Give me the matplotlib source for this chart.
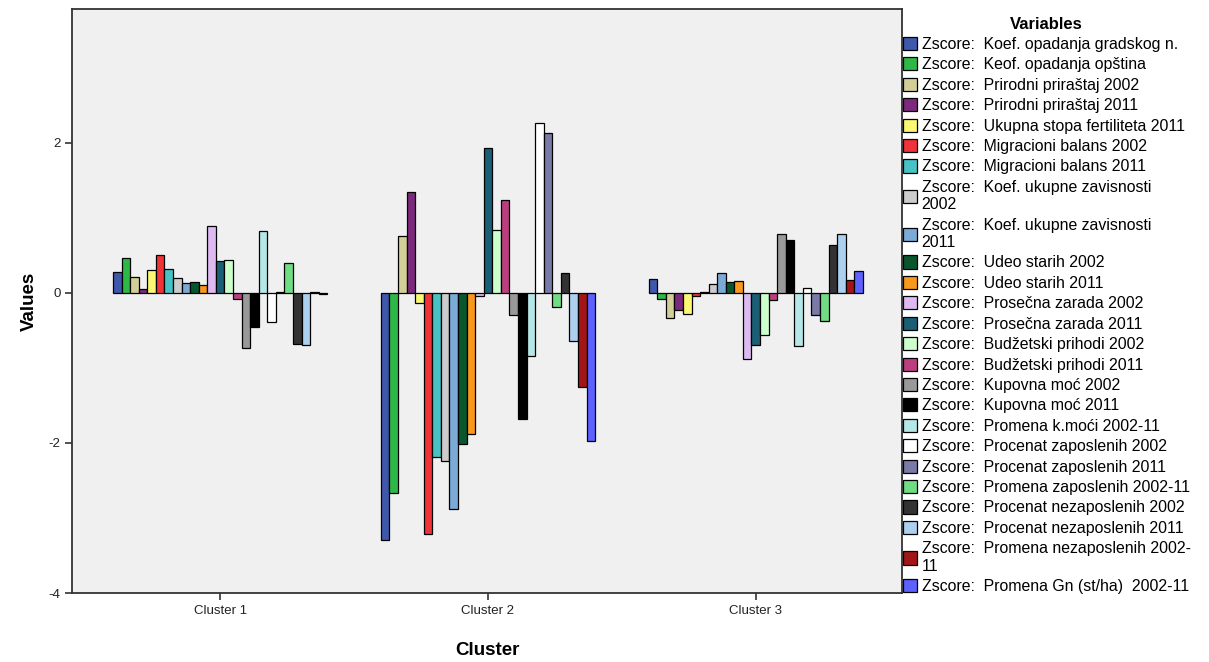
import matplotlib
matplotlib.use("Agg")
import matplotlib.pyplot as plt
import numpy as np

plt.rcParams['font.family'] = ['Liberation Sans', 'DejaVu Sans']
plt.rcParams['axes.unicode_minus'] = False

clusters = ["Cluster 1", "Cluster 2", "Cluster 3"]

variables = [
    "Zscore:  Koef. opadanja gradskog n.",
    "Zscore:  Keof. opadanja opština",
    "Zscore:  Prirodni priraštaj 2002",
    "Zscore:  Prirodni priraštaj 2011",
    "Zscore:  Ukupna stopa fertiliteta 2011",
    "Zscore:  Migracioni balans 2002",
    "Zscore:  Migracioni balans 2011",
    "Zscore:  Koef. ukupne zavisnosti\n2002",
    "Zscore:  Koef. ukupne zavisnosti\n2011",
    "Zscore:  Udeo starih 2002",
    "Zscore:  Udeo starih 2011",
    "Zscore:  Prosečna zarada 2002",
    "Zscore:  Prosečna zarada 2011",
    "Zscore:  Budžetski prihodi 2002",
    "Zscore:  Budžetski prihodi 2011",
    "Zscore:  Kupovna moć 2002",
    "Zscore:  Kupovna moć 2011",
    "Zscore:  Promena k.moći 2002-11",
    "Zscore:  Procenat zaposlenih 2002",
    "Zscore:  Procenat zaposlenih 2011",
    "Zscore:  Promena zaposlenih 2002-11",
    "Zscore:  Procenat nezaposlenih 2002",
    "Zscore:  Procenat nezaposlenih 2011",
    "Zscore:  Promena nezaposlenih 2002-\n11",
    "Zscore:  Promena Gn (st/ha)  2002-11",
]

colors = ["#3E58AC", "#2EB848", "#D3CE97", "#7C287D", "#FBF873", "#EF3338",
          "#48C2C5", "#CCCCCC", "#7AAAD5", "#0A562C", "#F8981D", "#DDBAF1",
          "#1A5F76", "#CCFFCC", "#BB3F7F", "#999999", "#000000", "#B6E7E8",
          "#FFFFFF", "#797AA7", "#70DC84", "#333333", "#ACD0EE", "#A21619",
          "#5D61FF"]

cluster1 = [0.28, 0.46, 0.21, 0.05, 0.30, 0.51, 0.32, 0.20, 0.13, 0.14, 0.10,
            0.89, 0.42, 0.44, -0.08, -0.74, -0.46, 0.82, -0.39, 0.01, 0.40,
            -0.68, -0.70, 0.01, -0.01]
cluster2 = [-3.29, -2.67, 0.76, 1.34, -0.13, -3.21, -2.19, -2.24, -2.88, -2.02,
            -1.88, -0.04, 1.93, 0.84, 1.24, -0.29, -1.68, -0.84, 2.27, 2.13,
            -0.19, 0.27, -0.64, -1.26, -1.97]
cluster3 = [0.19, -0.08, -0.33, -0.23, -0.28, -0.04, 0.01, 0.12, 0.27, 0.15,
            0.16, -0.88, -0.69, -0.56, -0.09, 0.78, 0.70, -0.71, 0.06, -0.30,
            -0.38, 0.64, 0.78, 0.17, 0.29]

values = np.array([cluster1, cluster2, cluster3])

fig = plt.figure(figsize=(12.09, 6.62), dpi=100)
ax = fig.add_axes([0.0598, 0.1042, 0.6865, 0.8818])
ax.set_facecolor("#F0F0F0")

n = len(variables)
w = 0.8 / n
x = np.arange(len(clusters))
handles = []
for i in range(n):
    b = ax.bar(x - 0.4 + w * (i + 0.5), values[:, i], width=w, color=colors[i],
               edgecolor="black", linewidth=0.9, label=variables[i])
    handles.append(b)

ax.set_xlim(-0.552, 2.547)
ax.set_ylim(-4, 3.78)
ax.set_yticks([-4, -2, 0, 2])
ax.set_xticks(x)
ax.set_xticklabels(clusters)
ax.tick_params(axis="both", labelsize=9.5, length=5, width=1.2, color="#333333",
               labelcolor="#222222")
for s in ax.spines.values():
    s.set_color("#333333")
    s.set_linewidth(1.3)

ax.set_ylabel("Values", fontsize=13.5, fontweight="bold", labelpad=8)
ax.set_xlabel("Cluster", fontsize=13.5, fontweight="bold", labelpad=18)

leg = fig.legend(handles=handles, labels=variables, loc="upper left",
                 bbox_to_anchor=(0.7465, 0.975), frameon=False, fontsize=11.4,
                 handlelength=0.9, handleheight=0.9, handletextpad=0.3,
                 labelspacing=0.34, borderpad=0, borderaxespad=0,
                 title="Variables",
                 title_fontproperties={"weight": "bold", "size": 12})
leg._legend_box.align = "center"

fig.savefig("out.png", dpi=100)
